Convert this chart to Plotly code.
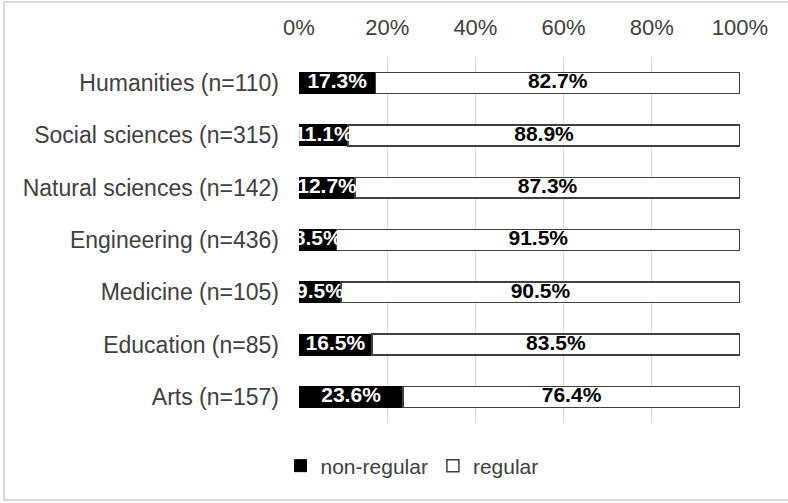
import plotly.graph_objects as go

categories = ["Humanities (n=110)", "Social sciences (n=315)", "Natural sciences (n=142)",
              "Engineering (n=436)", "Medicine (n=105)", "Education (n=85)", "Arts (n=157)"]
non_regular = [17.3, 11.1, 12.7, 8.5, 9.5, 16.5, 23.6]
regular = [82.7, 88.9, 87.3, 91.5, 90.5, 83.5, 76.4]
tick_vals = [0, 20, 40, 60, 80, 100]
tick_text = ["0%", "20%", "40%", "60%", "80%", "100%"]

FONT = "Liberation Sans, Arial, sans-serif"
TXT = "#404040"

fig = go.Figure()
fig.add_trace(go.Bar(
    y=categories, x=non_regular, name="non-regular", orientation="h",
    marker=dict(color="black", line=dict(color="black", width=1)),
))
fig.add_trace(go.Bar(
    y=categories, x=regular, name="regular", orientation="h",
    marker=dict(color="white", line=dict(color="#404040", width=1.5)),
))
fig.add_trace(go.Scatter(
    y=categories, x=[v / 2 for v in non_regular], mode="text",
    text=[f"{v:.1f}%" for v in non_regular],
    textfont=dict(family=FONT, size=21, color="white", weight="bold"),
    showlegend=False, hoverinfo="skip", cliponaxis=False,
))
fig.add_trace(go.Scatter(
    y=categories, x=[n + r / 2 for n, r in zip(non_regular, regular)], mode="text",
    text=[f"{v:.1f}%" for v in regular],
    textfont=dict(family=FONT, size=21, color="black", weight="bold"),
    showlegend=False, hoverinfo="skip", cliponaxis=False,
))

L, R, T, B = 299, 740, 57, 423
W, H = 788, 503
pw, ph = R - L, B - T

def px(x):
    return (x - L) / pw

def py(y):
    return (B - y) / ph

fig.update_layout(
    width=W, height=H,
    margin=dict(l=L, r=W - R, t=T, b=H - B),
    barmode="stack", bargap=0.6,
    plot_bgcolor="white", paper_bgcolor="white",
    font=dict(family=FONT, size=22, color=TXT),
    xaxis=dict(side="top", range=[0, 100], tickvals=tick_vals, ticktext=tick_text,
               showgrid=True, gridcolor="#d9d9d9", gridwidth=1, zeroline=False,
               showline=False, ticks="", ticklabelstandoff=17,
               tickfont=dict(size=22, color=TXT)),
    yaxis=dict(categoryorder="array", categoryarray=categories, autorange="reversed",
               showgrid=False, zeroline=False, showline=False, ticks="",
               ticklabelstandoff=19, tickfont=dict(size=23, color=TXT)),
    legend=dict(orientation="h", x=px(412), xanchor="center", y=py(466), yanchor="middle",
                font=dict(size=21, color=TXT), itemwidth=30, traceorder="normal",
                bgcolor="rgba(0,0,0,0)"),
    shapes=[dict(type="rect", xref="paper", yref="paper", layer="below",
                 x0=px(4), x1=px(795), y0=py(500), y1=py(2),
                 line=dict(color="#d9d9d9", width=2), fillcolor="rgba(0,0,0,0)")],
)

fig.write_html("out.html")
